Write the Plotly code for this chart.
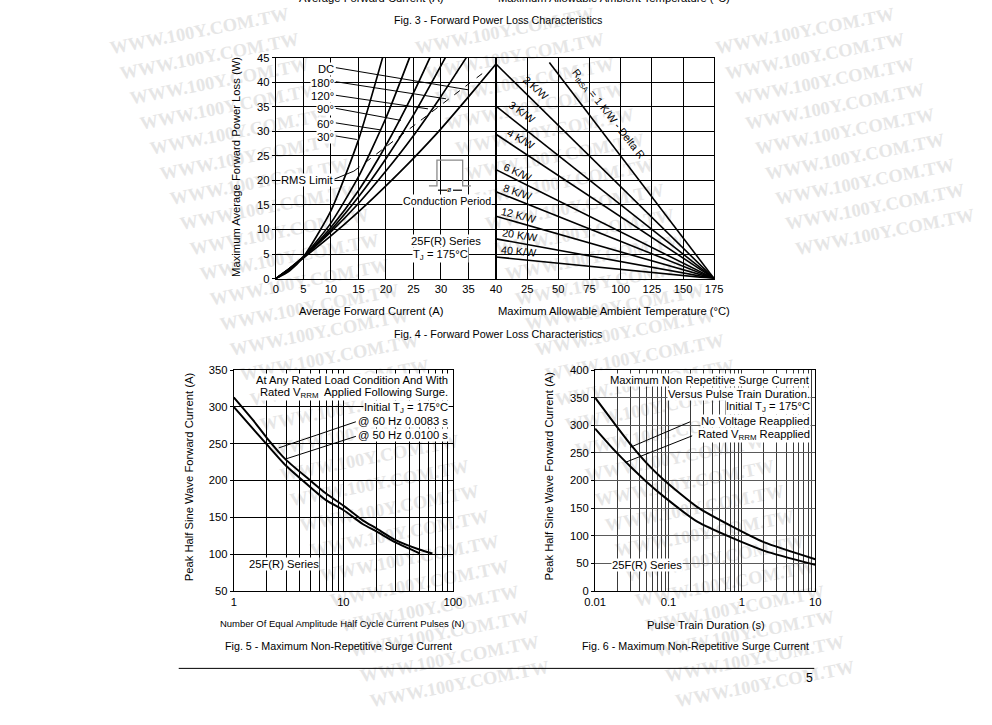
import plotly.graph_objects as go

W, H = 992, 725
FONT = "Liberation Sans, Arial, sans-serif"

# ---------------- data ----------------
# Fig. 4 (left): average forward current (A) -> max average forward power loss (W)
i_dc = [0, 2.5, 5, 10, 15, 20, 25, 30, 35, 40]
p_dc = [0, 2.05, 4.2, 8.7, 13.6, 18.9, 24.5, 30.5, 37.0, 43.7]
i_180 = [0, 2.5, 5, 10, 15, 20, 25, 30, 34.6]
p_180 = [0, 2.1, 4.4, 9.5, 15.3, 21.9, 29.1, 37.1, 45]
i_120 = [0, 2.5, 5, 10, 15, 20, 25, 30.8]
p_120 = [0, 2.05, 4.4, 9.9, 16.6, 24.4, 33.3, 45]
i_90 = [0, 2.5, 5, 10, 15, 20, 25, 28]
p_90 = [0, 2.0, 4.3, 10.4, 17.9, 27.1, 37.8, 45]
i_60 = [0, 2.5, 5, 10, 15, 20, 24.3]
p_60 = [0, 1.9, 4.4, 11.3, 20.7, 32.7, 45]
i_30 = [0, 2.5, 5, 10, 15, 19.4]
p_30 = [0, 1.6, 4.4, 13.8, 28.2, 45]
rms_i = [14.2, 38.5]
rms_p = [21.9, 42.6]
current_ticks = [0, 5, 10, 15, 20, 25, 30, 35, 40]
loss_ticks = [0, 5, 10, 15, 20, 25, 30, 35, 40, 45]

# Fig. 4 (right): max allowable ambient temperature (C) for each thermal resistance
rth_labels = ["2 K/W", "3 K/W", "4 K/W", "6 K/W", "8 K/W", "12 K/W", "20 K/W", "40 K/W"]
rth_p_start = [43.7, 35.1, 29.4, 22.2, 17.7, 12.7, 8.1, 4.4]
ta_start = 0
ta_end = 175
delta_r_ta = [42.8, 175]
delta_r_p = [44, 0]
temp_ticks = [25, 50, 75, 100, 125, 150, 175]

# Fig. 5: number of pulses -> peak half sine surge current (A)
n_60hz = [1, 1.5, 2, 3, 5, 7, 10, 15, 20, 30, 50, 65]
a_60hz = [313, 282, 258, 228, 200, 182, 166, 146, 135, 119, 106, 101]
n_50hz = [1, 1.5, 2, 3, 5, 7, 10, 15, 20, 30, 50]
a_50hz = [300, 270, 249, 220, 191, 173, 160, 141, 131, 116, 101]
n_major = [1, 10, 100]
n_minor = [2, 3, 4, 5, 6, 7, 8, 9, 20, 30, 40, 50, 60, 70, 80, 90]
surge5_ticks = [50, 100, 150, 200, 250, 300, 350]

# Fig. 6: pulse train duration (s) -> peak half sine surge current (A)
t_novolt = [0.01, 0.0184, 0.031, 0.05, 0.0883, 0.25, 0.71, 2.03, 10]
a_novolt = [350, 303, 264, 232, 200, 151.5, 118, 88, 57.6]
t_rated = [0.01, 0.0184, 0.031, 0.05, 0.0883, 0.25, 0.71, 2.03, 10]
a_rated = [294, 254.5, 224, 198, 170, 125, 97, 72.7, 47.3]
t_major = [0.01, 0.1, 1, 10]
t_major_text = ["0.01", "0.1", "1", "10"]
t_minor = [0.02, 0.03, 0.04, 0.05, 0.06, 0.07, 0.08, 0.09,
           0.2, 0.3, 0.4, 0.5, 0.6, 0.7, 0.8, 0.9,
           2, 3, 4, 5, 6, 7, 8, 9]
surge6_ticks = [0, 50, 100, 150, 200, 250, 300, 350, 400]

# ---------------- helpers ----------------
# the photographed page comes out slightly shrunk about its centre; compensate
S = 0.979
CX, CY = W / 2, H / 2
FS = 1 / S


def px(x):
    return (CX + (x - CX) / S) / W


def py(y):
    return 1 - (CY + (y - CY) / S) / H


annotations = []
shapes = []


def text(x, y, s, size=11, xanchor="center", yanchor="middle", angle=0, bg=None,
         color="black", family=FONT):
    d = dict(x=px(x), y=py(y), xref="paper", yref="paper", text=s, showarrow=False,
             xanchor=xanchor, yanchor=yanchor, textangle=angle,
             font=dict(size=size * FS, color=color, family=family))
    if bg:
        d.update(bgcolor=bg, borderpad=0)
    annotations.append(d)


def seg(x0, y0, x1, y1, color="black", width=1):
    shapes.append(dict(type="line", xref="paper", yref="paper",
                       x0=px(x0), y0=py(y0), x1=px(x1), y1=py(y1),
                       line=dict(color=color, width=width)))


fig = go.Figure()

# ---- Fig 4 left curves
for xs, ys in [(i_dc, p_dc), (i_180, p_180), (i_120, p_120), (i_90, p_90), (i_60, p_60), (i_30, p_30)]:
    fig.add_trace(go.Scatter(x=xs, y=ys, mode="lines", xaxis="x", yaxis="y",
                             line=dict(color="black", width=1.7, shape="spline", smoothing=0.6),
                             showlegend=False, hoverinfo="skip"))
fig.add_trace(go.Scatter(x=rms_i, y=rms_p, mode="lines", xaxis="x", yaxis="y",
                         line=dict(color="black", width=1, dash="7px,7px"),
                         showlegend=False, hoverinfo="skip"))

# ---- Fig 4 right lines
for p0 in rth_p_start:
    fig.add_trace(go.Scatter(x=[ta_start, ta_end], y=[p0, 0], mode="lines", xaxis="x2", yaxis="y2",
                             line=dict(color="black", width=1.6), showlegend=False, hoverinfo="skip"))
fig.add_trace(go.Scatter(x=delta_r_ta, y=delta_r_p, mode="lines", xaxis="x2", yaxis="y2",
                         line=dict(color="black", width=1.6), showlegend=False, hoverinfo="skip"))

# ---- Fig 5 curves
for xs, ys in [(n_60hz, a_60hz), (n_50hz, a_50hz)]:
    fig.add_trace(go.Scatter(x=xs, y=ys, mode="lines", xaxis="x3", yaxis="y3",
                             line=dict(color="black", width=2, shape="spline", smoothing=0.6),
                             showlegend=False, hoverinfo="skip"))

# ---- Fig 6 curves
for xs, ys in [(t_novolt, a_novolt), (t_rated, a_rated)]:
    fig.add_trace(go.Scatter(x=xs, y=ys, mode="lines", xaxis="x4", yaxis="y4",
                             line=dict(color="black", width=2, shape="spline", smoothing=0.6),
                             showlegend=False, hoverinfo="skip"))


def axis(**kw):
    d = dict(showline=True, linecolor="black", linewidth=1, mirror=True,
             showgrid=True, gridcolor="black", gridwidth=1, zeroline=False,
             tickfont=dict(size=11 * FS, family=FONT, color="black"), ticks="",
             fixedrange=True, tickmode="array")
    d.update(kw)
    return d


top_dom = [py(279), py(59)]
bot_dom = [py(590), py(370)]

layout_axes = dict(
    xaxis=axis(domain=[px(275), px(495)], range=[0, 40], tickvals=current_ticks, anchor="y"),
    yaxis=axis(domain=top_dom, range=[0, 45], tickvals=loss_ticks, anchor="x",
               ticks="outside", ticklen=3, tickcolor="black"),
    xaxis2=axis(domain=[px(495), px(713)], range=[0, 175], tickvals=temp_ticks, anchor="y2"),
    yaxis2=axis(domain=top_dom, range=[0, 45], tickvals=[], anchor="x2",
                minor=dict(tickmode="array", tickvals=loss_ticks, showgrid=True,
                           gridcolor="black", gridwidth=1, ticks="")),
    xaxis3=axis(type="log", domain=[px(233), px(452)], range=[0, 2], tickvals=n_major,
                ticktext=[str(v) for v in n_major], anchor="y3",
                minor=dict(tickmode="array", tickvals=n_minor, showgrid=True,
                           gridcolor="black", gridwidth=1, ticks="")),
    yaxis3=axis(domain=bot_dom, range=[50, 350], tickvals=surge5_ticks,
                anchor="x3", ticks="outside", ticklen=3, tickcolor="black"),
    xaxis4=axis(type="log", domain=[px(594), px(814)], range=[-2, 1], tickvals=t_major,
                ticktext=t_major_text, anchor="y4", gridcolor="#3a3a3a",
                minor=dict(tickmode="array", tickvals=t_minor, showgrid=True,
                           gridcolor="#3a3a3a", gridwidth=1, ticks="")),
    yaxis4=axis(domain=bot_dom, range=[0, 400], tickvals=surge6_ticks, anchor="x4",
                ticks="outside", ticklen=3, tickcolor="black", gridcolor="#5a5a5a"),
)

# ---------------- watermark (below everything, only whole copies) ----------------
for bx in [95, 400, 700]:
    for k in range(30):
        lx = bx + 10 * k
        ly = 35 + 25 * k
        cx, cy = lx + 95, ly - 17
        if lx < 0 or lx + 198 > W or cy - 24 < 0 or ly + 6 > H:
            continue
        shapes.append(dict(type="line", xref="paper", yref="paper", layer="below",
                           x0=px(cx - 95), y0=py(cy + 18), x1=px(cx + 95), y1=py(cy - 18),
                           line=dict(color="rgba(255,255,255,0)", width=1),
                           label=dict(text="<b>WWW.100Y.COM.TW</b>", textangle=-11,
                                      textposition="middle",
                                      font=dict(family="Liberation Serif, serif", size=18 * FS,
                                                color="#e6e6e6"))))

# ---------------- page text ----------------
text(371, -0.5, "Average Forward Current (A)")
text(613, -0.5, "Maximum Allowable Ambient Temperature (°C)")
text(497, 22, "Fig. 3 - Forward Power Loss Characteristics", size=10.5)

# Fig 4 texts
text(235, 168, "Maximum Average Forward Power Loss (W)", angle=-90)
text(371, 311, "Average Forward Current (A)")
text(613, 311, "Maximum Allowable Ambient Temperature (°C)")
text(497, 334, "Fig. 4 - Forward Power Loss Characteristics", size=10.5)

lab_y = [70, 84, 97.5, 110.5, 125, 138]
lab_txt = ["DC", "180°", "120°", "90°", "60°", "30°"]
lead_end = [(467, 91), (445, 100), (427, 110), (400, 121.5), (380, 131), (356, 140.5)]
for yv, t, (ex, ey) in zip(lab_y, lab_txt, lead_end):
    seg(335, yv - 1, ex, ey)
    text(334, yv, t, xanchor="right", bg="white")

seg(331, 181, 353, 172)
text(279, 181, "RMS Limit", xanchor="left", bg="white")

# conduction period icon
icon = [(428, 186.7), (436, 186.7), (436, 161), (461.7, 161), (461.7, 186.7), (470, 186.7)]
path = "M " + " L ".join(f"{px(a):.5f},{py(b):.5f}" for a, b in icon)
shapes.append(dict(type="path", xref="paper", yref="paper", path=path,
                   line=dict(color="#8a8a8a", width=1.3)))
seg(437, 191, 446, 191, width=1.2)
seg(452, 191, 461, 191, width=1.2)
text(449, 190.5, "ø", size=7)
text(446.5, 202, "Conduction Period", size=10.5, bg="white")
text(445, 242, "25F(R) Series", bg="white")
text(440, 255, "T<sub>J</sub> = 175°C", bg="white")

rth_pos = [(535, 89.5), (521, 113.5), (520, 140.5), (516.7, 173), (516.7, 192.5),
           (517.5, 215.5), (519, 236), (517.5, 251.5)]
rth_ang = [42, 35, 30, 24, 19, 14, 9, 5]
for t, (xx, yy), ang in zip(rth_labels, rth_pos, rth_ang):
    text(xx, yy, t, size=10.5, angle=ang)
text(607, 115, "R<sub>thSA</sub> = 1 K/W - Delta R", size=10.5, angle=52)

# Fig 5 texts
text(188, 476, "Peak Half Sine Wave Forward Current (A)", angle=-90)
text(342, 622, "Number Of Equal Amplitude Half Cycle Current Pulses (N)", size=9.3)
text(338, 645, "Fig. 5 - Maximum Non-Repetitive Surge Current", size=10.5)
text(448, 380, "At Any Rated Load Condition And With", xanchor="right", bg="white")
text(448, 393, "Rated V<sub>RRM</sub>  Applied Following Surge.", xanchor="right", bg="white")
text(448, 407.5, "Initial T<sub>J</sub> = 175°C", xanchor="right", bg="white")
text(448, 420.5, "@ 60 Hz 0.0083 s", xanchor="right", bg="white")
text(448, 434.5, "@ 50 Hz 0.0100 s", xanchor="right", bg="white")
seg(355, 421.5, 278, 447.5)
seg(355, 436, 285, 458.5)
text(283, 563, "25F(R) Series", bg="white")

# Fig 6 texts
text(547, 476, "Peak Half Sine Wave Forward Current (A)", angle=-90)
text(705, 624, "Pulse Train Duration (s)")
text(694, 645, "Fig. 6 - Maximum Non-Repetitive Surge Current", size=10.5)
text(810, 380, "Maximum Non Repetitive Surge Current", xanchor="right", bg="white")
text(810, 393.5, "Versus Pulse Train Duration.", xanchor="right", bg="white")
text(810, 406.5, "Initial T<sub>J</sub> = 175°C", xanchor="right", bg="white")
text(810, 420.5, "No Voltage Reapplied", xanchor="right", bg="white")
text(810, 435, "Rated V<sub>RRM</sub> Reapplied", xanchor="right", bg="white")
seg(689, 421.5, 629, 447)
seg(691, 435.5, 624, 462)
text(646, 564, "25F(R) Series", bg="white")

# footer
seg(178, 667, 813, 667)
text(808, 677, "5", size=12)

fig.update_layout(
    width=W, height=H, autosize=False,
    margin=dict(l=0, r=0, t=0, b=0),
    paper_bgcolor="white", plot_bgcolor="rgba(0,0,0,0)",
    showlegend=False,
    annotations=annotations, shapes=shapes,
    font=dict(family=FONT, color="black"),
    **layout_axes,
)

fig.write_html(
    "out.html",
    config={"displayModeBar": False},
    post_script="document.body.style.margin='0';document.body.style.overflow='hidden';",
)
